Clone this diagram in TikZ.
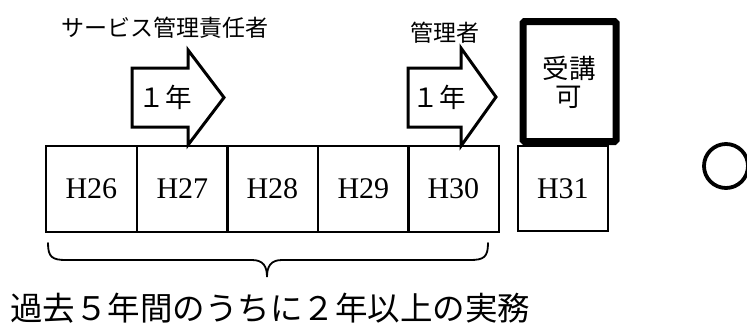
\documentclass[tikz,border=0pt]{standalone}
\usepackage{fontspec}
\setmainfont{Liberation Serif}
\newfontfamily\jp{Noto Sans CJK JP}
\begin{document}
\begin{tikzpicture}[x=1pt,y=-1pt,
  yearbox/.style={draw,line width=1.8pt,minimum width=91pt,minimum height=86pt,inner sep=0pt,font=\fontsize{30}{32}\selectfont},
  blockarrow/.style={draw,fill=white,line width=3pt,line join=miter},
  lbl/.style={inner sep=0pt,font=\jp\fontsize{23}{25}\selectfont},
  arrowtxt/.style={inner sep=0pt,font=\jp\fontsize{26.5}{28}\selectfont},
  okbox/.style={draw,line width=7pt,rounded corners=1.5pt},
  brace/.style={draw,line width=1.8pt,line cap=round}]
\useasboundingbox (0,0) rectangle (747,325);
% year boxes
\node[yearbox,anchor=north west] (h26) at (45,145) {H26};
\node[yearbox,anchor=north west] (h27) at (136,145) {H27};
\node[yearbox,anchor=north west] (h28) at (226,145) {H28};
\node[yearbox,anchor=north west] (h29) at (317,145) {H29};
\node[yearbox,anchor=north west] (h30) at (407,145) {H30};
\node[yearbox,anchor=north west,minimum width=90pt,minimum height=85pt] (h31) at (517,145) {H31};
% thick box
\draw[okbox] (523,21.5) rectangle (616,141.5);
\node[arrowtxt] (ju) at (569,68) {受講};
\node[arrowtxt] (ka) at (569,97) {可};
% arrows
\draw[blockarrow] (132,68) -- (188,68) -- (188,50) -- (224,97.5) -- (188,145) -- (188,127) -- (132,127) -- cycle;
\draw[blockarrow] (408,68) -- (461,68) -- (461,48) -- (496,97) -- (461,146) -- (461,127) -- (408,127) -- cycle;
\node[arrowtxt] (a1) at (165,97) {１年};
\node[arrowtxt] (a2) at (439,97) {１年};
% labels
\node[lbl] (svc) at (165,28) {サービス管理責任者};
\node[lbl] (mgr) at (445,33) {管理者};
% brace
\draw[brace] (48,243) .. controls (48,257) and (52,260) .. (66,260) -- (252,260) .. controls (263,260) and (267,266) .. (267,277) .. controls (267,266) and (271,260) .. (282,260) -- (470,260) .. controls (484,260) and (488,257) .. (488,243);
\node[inner sep=0pt,font=\jp\fontsize{32.5}{34}\selectfont] (note) at (270,308) {過去５年間のうちに２年以上の実務};
% circle
\draw[line width=3.8pt] (726,166) circle (22pt);
\end{tikzpicture}
\end{document}
